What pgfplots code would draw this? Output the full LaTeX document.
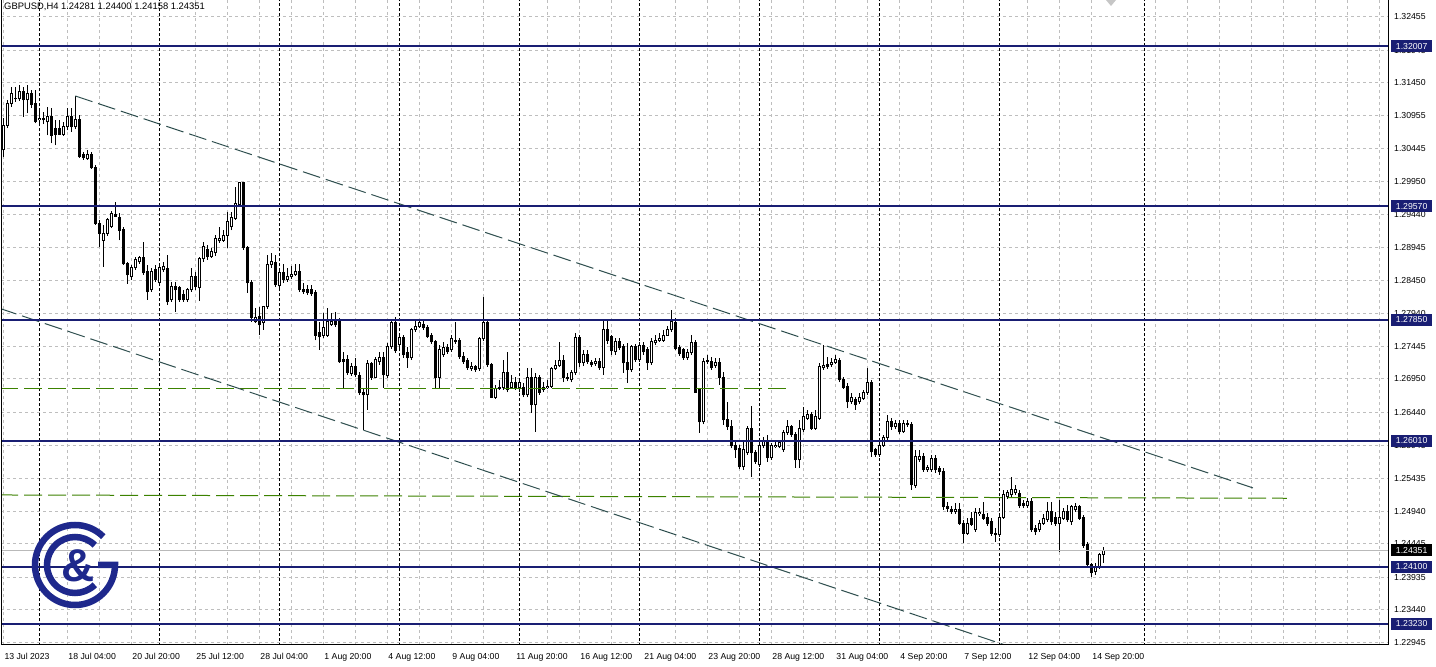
\documentclass[border=0pt]{standalone}
\usepackage{fontspec}
\setmainfont{Liberation Sans}
\usepackage{pgfplots}
\usepackage{pgfplotstable}
\pgfplotsset{compat=1.18}
\definecolor{lvl}{RGB}{25,30,115}
\definecolor{logoc}{RGB}{30,40,140}
\definecolor{trend}{RGB}{47,79,79}
\definecolor{grn}{RGB}{60,130,0}
\definecolor{gridc}{RGB}{190,190,190}
\newcommand\lab{\fontsize{8.7}{10}\selectfont}
\pgfplotstableread{
k o h l c
0 1.30428 1.30913 1.30322 1.30807
1 1.30807 1.31187 1.30761 1.31141
2 1.31141 1.31385 1.31081 1.31293
3 1.31202 1.31385 1.31157 1.31217
4 1.31202 1.31415 1.31172 1.31309
5 1.31309 1.31385 1.30929 1.31187
6 1.31187 1.31415 1.30989 1.31293
7 1.31293 1.31339 1.31065 1.31126
8 1.31141 1.31339 1.30837 1.30853
9 1.30883 1.31035 1.30807 1.30913
10 1.30913 1.31005 1.30822 1.30883
11 1.30853 1.31081 1.30655 1.30929
12 1.30929 1.31065 1.30533 1.30655
13 1.30761 1.30883 1.30503 1.30670
14 1.30761 1.30883 1.30655 1.30670
15 1.30670 1.30853 1.30640 1.30777
16 1.30777 1.31065 1.30731 1.30929
17 1.30929 1.31065 1.30701 1.30777
18 1.30777 1.31248 1.30746 1.30883
19 1.30883 1.30959 1.30306 1.30322
20 1.30352 1.30397 1.30276 1.30306
21 1.30291 1.30428 1.30276 1.30352
22 1.30352 1.30397 1.30139 1.30154
23 1.30154 1.30200 1.29288 1.29318
24 1.29318 1.29364 1.28954 1.29166
25 1.29060 1.29288 1.28651 1.29166
26 1.29166 1.29394 1.29121 1.29364
27 1.29258 1.29500 1.29242 1.29470
28 1.29455 1.29638 1.29409 1.29424
29 1.29409 1.29470 1.29060 1.29212
30 1.29227 1.29258 1.28681 1.28696
31 1.28696 1.28727 1.28392 1.28529
32 1.28499 1.28681 1.28453 1.28636
33 1.28636 1.28803 1.28605 1.28757
34 1.28727 1.28818 1.28696 1.28788
35 1.28788 1.29030 1.28529 1.28560
36 1.28575 1.28681 1.28149 1.28271
37 1.28301 1.28636 1.28271 1.28575
38 1.28605 1.28681 1.28423 1.28453
39 1.28407 1.28712 1.28362 1.28636
40 1.28605 1.28727 1.28575 1.28651
41 1.28620 1.28833 1.28073 1.28119
42 1.28149 1.28423 1.28119 1.28347
43 1.28347 1.28423 1.27967 1.28301
44 1.28332 1.28362 1.28119 1.28149
45 1.28225 1.28301 1.28119 1.28149
46 1.28149 1.28332 1.28119 1.28301
47 1.28301 1.28636 1.28271 1.28499
48 1.28499 1.28575 1.28301 1.28347
49 1.28332 1.28803 1.28134 1.28773
50 1.28773 1.29030 1.28727 1.28954
51 1.28909 1.28985 1.28757 1.28803
52 1.28803 1.28939 1.28788 1.28879
53 1.28864 1.29136 1.28818 1.29090
54 1.29045 1.29258 1.29015 1.29090
55 1.29060 1.29212 1.29030 1.29136
56 1.29136 1.29485 1.28939 1.29348
57 1.29258 1.29485 1.29212 1.29409
58 1.29394 1.29866 1.29364 1.29607
59 1.29592 1.29941 1.29562 1.29926
60 1.29926 1.29941 1.28909 1.28939
61 1.28939 1.28970 1.28256 1.28407
62 1.28407 1.28453 1.27815 1.27876
63 1.27815 1.28028 1.27800 1.27876
64 1.27891 1.28043 1.27617 1.27769
65 1.27800 1.28058 1.27693 1.28043
66 1.28043 1.28833 1.28013 1.28681
67 1.28681 1.28864 1.28636 1.28727
68 1.28712 1.28833 1.28347 1.28377
69 1.28362 1.28636 1.28332 1.28560
70 1.28560 1.28696 1.28407 1.28453
71 1.28453 1.28636 1.28423 1.28499
72 1.28499 1.28666 1.28468 1.28529
73 1.28529 1.28696 1.28514 1.28575
74 1.28575 1.28696 1.28271 1.28301
75 1.28301 1.28407 1.28240 1.28271
76 1.28301 1.28377 1.28225 1.28256
77 1.28301 1.28377 1.28210 1.28240
78 1.28256 1.28301 1.27541 1.27617
79 1.27648 1.27815 1.27390 1.27587
80 1.27617 1.27952 1.27572 1.27724
81 1.27617 1.28028 1.27587 1.27815
82 1.27769 1.27952 1.27754 1.27815
83 1.27845 1.27967 1.27739 1.27769
84 1.27860 1.27876 1.27192 1.27208
85 1.27238 1.27360 1.26812 1.27208
86 1.27238 1.27314 1.27010 1.27040
87 1.27025 1.27192 1.26995 1.27131
88 1.27131 1.27268 1.26979 1.27010
89 1.26995 1.27055 1.26706 1.26736
90 1.26736 1.26812 1.26174 1.26706
91 1.26706 1.27238 1.26478 1.27177
92 1.27177 1.27208 1.26934 1.26979
93 1.26979 1.27283 1.26964 1.27238
94 1.27208 1.27360 1.27162 1.27268
95 1.27268 1.27360 1.26812 1.27010
96 1.26995 1.27496 1.26964 1.27435
97 1.27435 1.27845 1.27405 1.27800
98 1.27800 1.27891 1.27344 1.27375
99 1.27466 1.27617 1.27420 1.27572
100 1.27572 1.27617 1.27268 1.27314
101 1.27344 1.27435 1.27116 1.27268
102 1.27268 1.27724 1.27238 1.27693
103 1.27693 1.27845 1.27663 1.27739
104 1.27739 1.27860 1.27724 1.27800
105 1.27769 1.27845 1.27693 1.27724
106 1.27724 1.27769 1.27572 1.27587
107 1.27602 1.27648 1.27481 1.27511
108 1.27511 1.27541 1.26812 1.26964
109 1.26964 1.27466 1.26812 1.27390
110 1.27314 1.27511 1.27283 1.27420
111 1.27420 1.27481 1.27329 1.27360
112 1.27390 1.27617 1.27360 1.27557
113 1.27541 1.27815 1.27481 1.27511
114 1.27526 1.27572 1.27253 1.27283
115 1.27283 1.27360 1.27177 1.27208
116 1.27223 1.27268 1.27086 1.27116
117 1.27101 1.27208 1.27071 1.27131
118 1.27131 1.27162 1.27055 1.27086
119 1.27101 1.27587 1.27071 1.27557
120 1.27557 1.28195 1.27526 1.27800
121 1.27800 1.27845 1.27131 1.27162
122 1.27162 1.27192 1.26660 1.26675
123 1.26675 1.26858 1.26645 1.26797
124 1.26827 1.26934 1.26782 1.26797
125 1.26812 1.27238 1.26782 1.27040
126 1.27040 1.27360 1.26751 1.26782
127 1.26827 1.27010 1.26812 1.26888
128 1.26888 1.26979 1.26782 1.26827
129 1.26812 1.26964 1.26751 1.26888
130 1.26827 1.26888 1.26675 1.26706
131 1.26706 1.27116 1.26675 1.26964
132 1.26964 1.27116 1.26433 1.26554
133 1.26554 1.27040 1.26144 1.26964
134 1.26979 1.27010 1.26706 1.26751
135 1.26782 1.26903 1.26751 1.26827
136 1.26812 1.26934 1.26797 1.26842
137 1.26842 1.27131 1.26812 1.27101
138 1.27101 1.27238 1.27086 1.27147
139 1.27147 1.27511 1.27131 1.27223
140 1.27223 1.27314 1.26903 1.26964
141 1.26979 1.27040 1.26918 1.26949
142 1.26934 1.27086 1.26903 1.27040
143 1.27040 1.27648 1.27010 1.27572
144 1.27572 1.27617 1.27131 1.27192
145 1.27192 1.27390 1.27147 1.27314
146 1.27314 1.27390 1.27177 1.27208
147 1.27192 1.27238 1.27131 1.27162
148 1.27177 1.27268 1.27147 1.27208
149 1.27208 1.27268 1.27086 1.27116
150 1.27116 1.27845 1.27010 1.27693
151 1.27693 1.27845 1.27481 1.27541
152 1.27587 1.27617 1.27314 1.27375
153 1.27360 1.27572 1.27314 1.27511
154 1.27511 1.27572 1.27390 1.27420
155 1.27435 1.27481 1.27040 1.27192
156 1.27192 1.27496 1.26888 1.27086
157 1.27086 1.27466 1.27055 1.27435
158 1.27435 1.27481 1.27208 1.27238
159 1.27238 1.27511 1.27208 1.27451
160 1.27451 1.27511 1.27314 1.27360
161 1.27390 1.27435 1.27086 1.27192
162 1.27192 1.27572 1.27162 1.27511
163 1.27496 1.27617 1.27466 1.27541
164 1.27526 1.27648 1.27511 1.27557
165 1.27541 1.27693 1.27511 1.27617
166 1.27617 1.27754 1.27602 1.27693
167 1.27693 1.27997 1.27663 1.27815
168 1.27800 1.27876 1.27390 1.27405
169 1.27420 1.27466 1.27299 1.27329
170 1.27390 1.27420 1.27238 1.27268
171 1.27268 1.27405 1.27238 1.27344
172 1.27344 1.27617 1.27314 1.27496
173 1.27496 1.27541 1.26736 1.26751
174 1.26782 1.26812 1.26129 1.26296
175 1.26296 1.27268 1.26265 1.27208
176 1.27208 1.27314 1.27177 1.27223
177 1.27208 1.27283 1.27086 1.27116
178 1.27147 1.27268 1.27116 1.27192
179 1.27192 1.27268 1.26858 1.26979
180 1.26979 1.27055 1.26250 1.26326
181 1.26341 1.26600 1.26174 1.26220
182 1.26220 1.26326 1.25900 1.25931
183 1.25946 1.26022 1.25749 1.25871
184 1.25886 1.25946 1.25582 1.25613
185 1.25613 1.26022 1.25567 1.25871
186 1.25825 1.26235 1.25795 1.26204
187 1.26204 1.26539 1.25461 1.25825
188 1.25825 1.25871 1.25658 1.25689
189 1.25643 1.26022 1.25613 1.25931
190 1.25931 1.26068 1.25900 1.25992
191 1.25992 1.26098 1.25689 1.25749
192 1.25749 1.25977 1.25719 1.25931
193 1.25916 1.26022 1.25900 1.25946
194 1.25916 1.26022 1.25900 1.25977
195 1.25871 1.26174 1.25840 1.26129
196 1.26129 1.26326 1.26098 1.26220
197 1.26220 1.26250 1.26068 1.26098
198 1.26098 1.26144 1.25597 1.25719
199 1.25719 1.26326 1.25597 1.26204
200 1.26174 1.26524 1.26144 1.26372
201 1.26356 1.26478 1.26326 1.26402
202 1.26402 1.26448 1.26174 1.26204
203 1.26204 1.26478 1.26174 1.26372
204 1.26356 1.27192 1.26326 1.27131
205 1.27116 1.27466 1.27086 1.27147
206 1.27162 1.27283 1.27101 1.27131
207 1.27162 1.27268 1.27131 1.27192
208 1.27192 1.27314 1.27177 1.27238
209 1.27223 1.27268 1.26903 1.26934
210 1.26934 1.26979 1.26797 1.26827
211 1.26842 1.26888 1.26508 1.26600
212 1.26600 1.26736 1.26569 1.26675
213 1.26630 1.26675 1.26478 1.26554
214 1.26600 1.26736 1.26569 1.26675
215 1.26660 1.26782 1.26630 1.26736
216 1.26736 1.27116 1.26706 1.26903
217 1.26903 1.26934 1.25765 1.25840
218 1.25871 1.25900 1.25765 1.25795
219 1.25795 1.26022 1.25765 1.25946
220 1.25946 1.26098 1.25916 1.26053
221 1.26053 1.26402 1.26022 1.26296
222 1.26296 1.26356 1.26174 1.26220
223 1.26220 1.26326 1.26189 1.26280
224 1.26280 1.26326 1.26113 1.26144
225 1.26144 1.26326 1.26129 1.26280
226 1.26280 1.26326 1.26220 1.26250
227 1.26250 1.26296 1.25263 1.25339
228 1.25324 1.25871 1.25293 1.25765
229 1.25719 1.25871 1.25689 1.25765
230 1.25765 1.25825 1.25537 1.25567
231 1.25567 1.25643 1.25537 1.25597
232 1.25567 1.25795 1.25537 1.25734
233 1.25734 1.25795 1.25521 1.25567
234 1.25582 1.25628 1.25491 1.25537
235 1.25537 1.25597 1.24959 1.25005
236 1.25005 1.25081 1.24929 1.24989
237 1.24959 1.25020 1.24898 1.24929
238 1.24929 1.25065 1.24898 1.24959
239 1.24959 1.25065 1.24731 1.24761
240 1.24761 1.24807 1.24458 1.24609
241 1.24609 1.24837 1.24579 1.24761
242 1.24837 1.24929 1.24716 1.24746
243 1.24655 1.24990 1.24625 1.24914
244 1.24898 1.24990 1.24868 1.24914
245 1.24883 1.25081 1.24807 1.24837
246 1.24852 1.24914 1.24716 1.24761
247 1.24777 1.24837 1.24564 1.24609
248 1.24609 1.24685 1.24473 1.24579
249 1.24579 1.24898 1.24549 1.24852
250 1.24852 1.25263 1.24822 1.25187
251 1.25157 1.25263 1.25126 1.25217
252 1.25187 1.25461 1.25157 1.25263
253 1.25217 1.25339 1.25187 1.25263
254 1.25202 1.25263 1.24989 1.25020
255 1.25065 1.25111 1.24989 1.25020
256 1.25020 1.25141 1.24989 1.25081
257 1.25081 1.25141 1.24625 1.24655
258 1.24685 1.24731 1.24579 1.24625
259 1.24655 1.24807 1.24625 1.24761
260 1.24761 1.24898 1.24731 1.24837
261 1.24807 1.25081 1.24777 1.24929
262 1.24929 1.25081 1.24731 1.24777
263 1.24852 1.24929 1.24716 1.24761
264 1.24761 1.25111 1.24321 1.24852
265 1.24837 1.24990 1.24807 1.24929
266 1.24929 1.25035 1.24777 1.24807
267 1.24777 1.25035 1.24731 1.25005
268 1.24959 1.25065 1.24929 1.25005
269 1.25005 1.25035 1.24807 1.24837
270 1.24852 1.24883 1.24382 1.24427
271 1.24427 1.24473 1.24093 1.24124
272 1.24124 1.24154 1.23941 1.24002
273 1.24017 1.24154 1.23972 1.24093
274 1.24093 1.24306 1.24063 1.24276
275 1.24281 1.24400 1.24158 1.24351
}\candles
\pgfplotsset{candle/.style={only marks, mark=*, mark size=0pt, mark options={draw=none,fill=none}, forget plot}}
\begin{document}
\begin{tikzpicture}[x=1pt,y=1pt]
\fill[white] (0,0) rectangle (1436,667);
\path[use as bounding box] (0,0) rectangle (1436,667);
\begin{axis}[
  scale only axis, width=1387pt, height=645pt,
  at={(1pt,22pt)}, anchor=south west,
  xmin=-0.575, xmax=346.175, ymin=1.22908, ymax=1.32706,
  axis line style={draw=none},
  clip mode=individual,
  major tick length=0pt,
  xtick={0,16,...,272},
  xticklabels={13 Jul 2023,18 Jul 04:00,20 Jul 20:00,25 Jul 12:00,28 Jul 04:00,1 Aug 20:00,4 Aug 12:00,9 Aug 04:00,11 Aug 20:00,16 Aug 12:00,21 Aug 04:00,23 Aug 20:00,28 Aug 12:00,31 Aug 04:00,4 Sep 20:00,7 Sep 12:00,12 Sep 04:00,14 Sep 20:00},
  xticklabel style={anchor=north west, inner sep=0pt, font=\lab, yshift=-8pt, xshift=1pt},
  extra x ticks={0,16,24,32,48,56,64,72,80,88,96,104,112,120,136,144,152,168,176,184,192,200,208,216,224,232,240,256,264,272,288,296,304,312,320,328,336,344},
  extra x tick labels={},
  extra x tick style={grid=major},
  ytick={1.32455,1.31945,1.31450,1.30955,1.30445,1.29950,1.29440,1.28945,1.28450,1.27940,1.27445,1.26950,1.26440,1.25945,1.25435,1.24940,1.24445,1.23935,1.23440,1.22945},
  yticklabels={1.32455,1.31945,1.31450,1.30955,1.30445,1.29950,1.29440,1.28945,1.28450,1.27940,1.27445,1.26950,1.26440,1.25945,1.25435,1.24940,1.24445,1.23935,1.23440,1.22945},
  yticklabel pos=right,
  yticklabel style={anchor=west, inner sep=0pt, font=\lab, xshift=6pt},
  ymajorgrids,
  major grid style={gridc, dash pattern=on 3pt off 3pt, line width=1pt},
  scaled y ticks=false,
]
% week separators
\pgfplotsinvokeforeach{9,39,69,99,129,159,189,219,249,285.4}{
  \addplot[black, line width=1pt, dash pattern=on 3pt off 2pt, forget plot] coordinates {(#1,1.2) (#1,1.34)};
}
% candles: wicks, bodies, white interiors of rising candles
\addplot[candle, error bars/.cd, y dir=plus, y explicit, error mark=none, error bar style={black, line width=1pt}]
  table[x=k, y=l, y error plus expr=\thisrow{h}-\thisrow{l}] {\candles};
\addplot[candle, error bars/.cd, y dir=plus, y explicit, error mark=none, error bar style={black, line width=3pt}]
  table[x=k, y expr={min(\thisrow{o},\thisrow{c})-0.000076}, y error plus expr={abs(\thisrow{c}-\thisrow{o})+0.000152}] {\candles};
\addplot[candle, error bars/.cd, y dir=plus, y explicit, error mark=none, error bar style={white, line width=1pt}]
  table[x=k, y expr={min(\thisrow{o},\thisrow{c})+0.000076}, y error plus expr={max(\thisrow{c}-\thisrow{o}-0.000152,0)}] {\candles};
% current price line
\addplot[gray!55, line width=1pt] coordinates {(-1,1.24351) (347,1.24351)};
% green dashed lines
\addplot[grn, line width=1pt, dash pattern=on 18pt off 6pt] coordinates {(-0.8,1.26810) (196.7,1.26810)};
\addplot[grn, line width=1pt, dash pattern=on 18pt off 6pt] coordinates {(-0.8,1.25187) (320.9,1.25137)};
% channel lines
\addplot[trend, line width=1pt, dash pattern=on 18pt off 6pt] coordinates {(18,1.31248) (312.4,1.25295)};
\addplot[trend, line width=1pt, dash pattern=on 18pt off 6pt] coordinates {(-1,1.28023) (255,1.22815)};
% horizontal levels
\pgfplotsinvokeforeach{1.32007,1.29570,1.27850,1.26010,1.24100,1.23230}{
  \addplot[lvl, line width=2pt] coordinates {(-1,#1) (347,#1)};
}
\coordinate (b1) at (axis cs:346.175,1.32007);
\coordinate (b2) at (axis cs:346.175,1.29570);
\coordinate (b3) at (axis cs:346.175,1.27850);
\coordinate (b4) at (axis cs:346.175,1.26010);
\coordinate (b5) at (axis cs:346.175,1.24100);
\coordinate (b6) at (axis cs:346.175,1.23230);
\coordinate (b7) at (axis cs:346.175,1.24351);
\end{axis}
% frame
\draw[black, line width=1pt] (1,667) -- (1,22) -- (1388,22) -- (1388,667);
% price boxes
\tikzset{pbox/.style={anchor=west, xshift=3pt, fill=lvl, text=white, minimum width=41pt, minimum height=12pt, inner sep=0pt, font=\lab}}
\node[pbox] at (b1) {1.32007};
\node[pbox] at (b2) {1.29570};
\node[pbox] at (b3) {1.27850};
\node[pbox] at (b4) {1.26010};
\node[pbox] at (b5) {1.24100};
\node[pbox] at (b6) {1.23230};
\node[pbox, fill=black] at (b7) {1.24351};
% title
\node[anchor=north west, inner sep=0pt, font=\fontsize{9.4}{11}\selectfont] at (4,664) {GBPUSD,H4 1.24281 1.24400 1.24158 1.24351};
% shift marker
\fill[gray!45] (1106,667) -- (1116,667) -- (1111,661) -- cycle;
% logo
\draw[logoc, line width=6.5pt] (75,102) ++(45:40) arc[start angle=45, end angle=360, radius=40] -- ++(-17,0);
\draw[logoc, line width=6.5pt] (75,102) ++(45:28) arc[start angle=45, end angle=315, radius=28];
\node[text=logoc, font=\fontsize{46}{46}\bfseries\selectfont, inner sep=0pt] at (78,101) {\&};
\end{tikzpicture}
\end{document}
